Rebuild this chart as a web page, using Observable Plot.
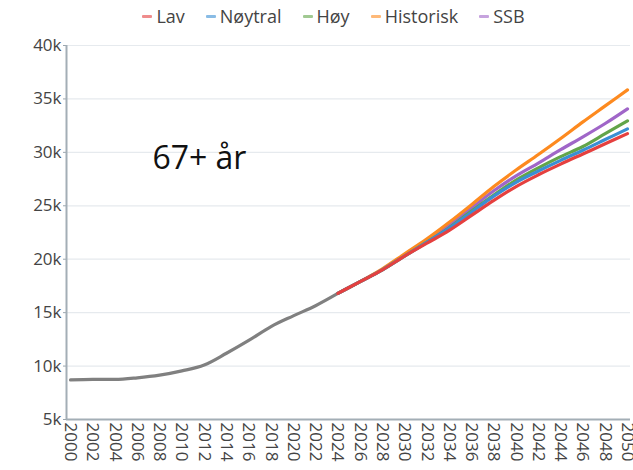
<!DOCTYPE html>
<html><head><meta charset="utf-8">
<script src="https://cdn.jsdelivr.net/npm/d3@7"></script>
<script src="https://cdn.jsdelivr.net/npm/@observablehq/plot@0.6"></script>
<style>
body{margin:0;background:#fff;font-family:"Open Sans",sans-serif;width:633px;overflow:hidden;}
#legend{height:32px;display:flex;justify-content:center;align-items:center;gap:21px;padding-left:34px;font-size:18px;color:#444;}
.item{display:flex;align-items:center;gap:4px;}
.sw{width:10px;height:3px;border-radius:1px;opacity:0.6;}
</style></head><body>
<div id="legend"></div><div id="chart"></div>
<script>
const histYears = [2000,2002,2004,2006,2008,2010,2012,2014,2016,2018,2020,2022,2024];
const histValues = [8700,8750,8750,8900,9150,9550,10100,11200,12400,13700,14700,15650,16800];

const projYears = [2024,2026,2028,2030,2032,2034,2036,2038,2040,2042,2044,2046,2048,2050];
const lav =       [16800,17900,19000,20300,21500,22700,24100,25500,26800,27900,28900,29850,30800,31750];
const noytral =   [16800,17900,19000,20300,21600,22900,24400,25900,27200,28250,29250,30200,31200,32200];
const hoy =       [16800,17900,19000,20300,21600,22950,24500,26000,27400,28550,29600,30550,31750,32950];
const historisk = [16800,17900,19100,20500,21900,23450,25100,26800,28350,29800,31300,32850,34350,35850];
const ssb =       [16800,17900,19050,20400,21750,23200,24800,26400,27800,29000,30250,31450,32700,34070];

const seriesNames = ["Lav","Nøytral","Høy","Historisk","SSB"];
const seriesColors = ["#e5403f","#3a8fd3","#62a549","#fd8a1f","#a066c8"];
const seriesValues = [lav, noytral, hoy, historisk, ssb];
const histColor = "#808080";

const xTicks = [2000,2002,2004,2006,2008,2010,2012,2014,2016,2018,2020,2022,2024,2026,2028,2030,2032,2034,2036,2038,2040,2042,2044,2046,2048,2050];
const yTicks = [5000,10000,15000,20000,25000,30000,35000,40000];
const yTickLabels = ["5k","10k","15k","20k","25k","30k","35k","40k"];
const annotation = {text: "67+ år", year: 2007.35, value: 29400};

// legend
const legend = document.getElementById("legend");
seriesNames.forEach((n, i) => {
  const it = document.createElement("div"); it.className = "item";
  const sw = document.createElement("div"); sw.className = "sw"; sw.style.background = seriesColors[i];
  const t = document.createElement("span"); t.textContent = n;
  it.append(sw, t); legend.append(it);
});

const hist = histYears.map((y, i) => ({year: y, value: histValues[i]}));
const seriesData = seriesNames.map((n, k) => projYears.map((y, i) => ({year: y, value: seriesValues[k][i], series: n})));

const xDomain = [1999.64, 2050.27];
const chart = Plot.plot({
  width: 633, height: 438,
  marginLeft: 66, marginRight: 3, marginTop: 13, marginBottom: 51,
  style: {fontFamily: "Open Sans", fontSize: "17px", color: "#444", background: "#fff"},
  x: {domain: xDomain, label: null},
  y: {domain: [5000, 40000], label: null},
  marks: [
    Plot.gridY(yTicks.slice(1), {stroke: "#e6eaee", strokeOpacity: 1, strokeWidth: 1.2}),
    Plot.axisY(yTicks, {tickFormat: d => yTickLabels[yTicks.indexOf(d)], tickSize: 3, tickPadding: 2, stroke: "#9aa6ae", fontSize: 17, fill: "#444"}),
    Plot.axisX(xTicks, {tickFormat: d => String(d), tickRotate: 90, tickSize: 0, tickPadding: 3, fontSize: 17, fill: "#444"}),
    Plot.line(hist, {x: "year", y: "value", stroke: histColor, strokeWidth: 3.2, curve: "monotone-x"}),
    // draw order: SSB first, Lav last (on top)
    ...[4,3,2,1,0].map(k => Plot.line(seriesData[k], {x: "year", y: "value", stroke: seriesColors[k], strokeWidth: 3.2, curve: "monotone-x"})),
    Plot.ruleX([xDomain[0]], {stroke: "#a3aeb6", strokeWidth: 2}),
    Plot.ruleY([5000], {stroke: "#a3aeb6", strokeWidth: 2}),
    Plot.text([annotation], {x: "year", y: "value", text: "text", textAnchor: "start", fontSize: 32, fill: "#111"})
  ]
});
document.getElementById("chart").append(chart);
</script>
</body></html>
